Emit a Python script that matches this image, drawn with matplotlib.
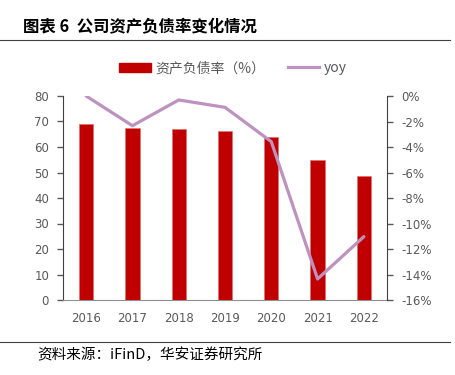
import matplotlib
matplotlib.use("Agg")
import matplotlib.pyplot as plt
from matplotlib.lines import Line2D
from matplotlib.patches import Patch
from matplotlib.ticker import FuncFormatter

plt.rcParams['font.family'] = ['DejaVu Sans', 'Noto Sans CJK SC']

years = ['2016', '2017', '2018', '2019', '2020', '2021', '2022']
debt_ratio = [68.9, 67.3, 67.0, 66.4, 64.0, 54.8, 48.7]
yoy = [0.0, -2.33, -0.31, -0.89, -3.58, -14.35, -11.03]

bar_color = '#C00000'
line_color = '#BD92BE'
grey = '#595959'
cjk = ['Noto Sans CJK SC', 'DejaVu Sans']

fig = plt.figure(figsize=(4.56, 3.75), dpi=100)
ax = fig.add_axes([63/456, 1-300/375, 324/456, 204/375])
x = list(range(len(years)))
ax.bar(x, debt_ratio, width=0.31, color=bar_color, edgecolor='#E07070', linewidth=0.5, zorder=2)
ax.set_ylim(0, 80)
ax.set_xlim(-0.5, len(years)-0.5)
ax.set_yticks(range(0, 81, 10))
ax.set_xticks(x)
ax.set_xticklabels(years)
ax.tick_params(axis='x', length=0, pad=9, labelsize=8.5, labelcolor=grey)
ax.tick_params(axis='y', length=4, width=1, color=grey, labelsize=8.5, labelcolor=grey, direction='out', pad=6)
for s in ['top', 'right']:
    ax.spines[s].set_visible(False)
ax.spines['left'].set_color('#404040')
ax.spines['bottom'].set_color('#909090')

ax2 = ax.twinx()
ax2.plot(x, yoy, color=line_color, linewidth=2.3, solid_capstyle='round', zorder=3)
ax2.set_ylim(-16, 0)
ax2.set_yticks(range(-16, 1, 2))
ax2.yaxis.set_major_formatter(FuncFormatter(lambda v, p: f'{int(round(v))}%'))
ax2.tick_params(axis='y', length=4, width=1, color=grey, labelsize=8.5, labelcolor=grey, direction='out', pad=6)
for s in ['top', 'left', 'bottom']:
    ax2.spines[s].set_visible(False)
ax2.spines['right'].set_color('#404040')

handles = [Patch(facecolor=bar_color, edgecolor=bar_color),
           Line2D([0], [0], color=line_color, linewidth=2.3)]
labels = ['资产负债率（%）', 'yoy']
leg = fig.legend(handles, labels, loc='center', bbox_to_anchor=(233/456, 1-68/375), ncol=2,
                 frameon=False, handlelength=2.3, handleheight=0.6, columnspacing=1.6,
                 handletextpad=0.3, prop={'family': cjk, 'size': 10})
for t in leg.get_texts():
    t.set_color(grey)

fig.text(23/456, 1-27/375, '图表 6  公司资产负债率变化情况', family=cjk, fontsize=11.8,
         fontweight='bold', va='center', ha='left', color='black')
fig.add_artist(Line2D([0, 450/456], [1-39.5/375, 1-39.5/375], color='#404040', linewidth=0.8))
fig.add_artist(Line2D([0, 450/456], [1-342/375, 1-342/375], color='#404040', linewidth=0.8))
fig.text(37/456, 1-355/375, '资料来源：iFinD，华安证券研究所', family=cjk, fontsize=10.5,
         va='center', ha='left', color='black')

fig.savefig('out.png', dpi=100)
